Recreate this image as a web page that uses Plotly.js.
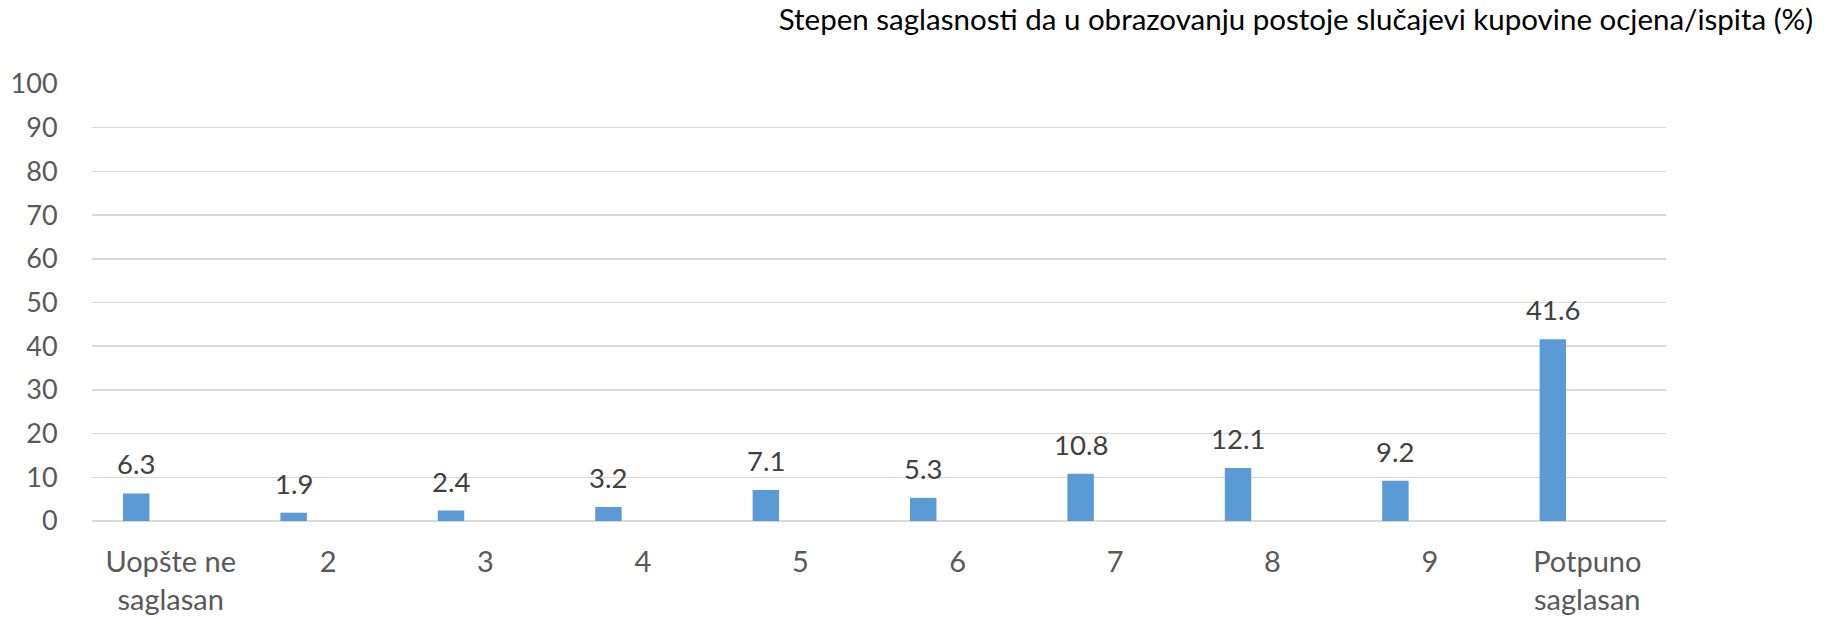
<!DOCTYPE html>
<html>
<head>
<meta charset="utf-8">
<script src="https://cdn.plot.ly/plotly-3.0.1.min.js"></script>
<style>
html, body { margin: 0; padding: 0; background: #fff; }
#chart { width: 1837px; height: 619px; }
</style>
</head>
<body>
<div id="chart"></div>
<script>
var categories = ["Uopšte ne<br>saglasan", "2", "3", "4", "5", "6", "7", "8", "9", "Potpuno<br>saglasan"];
var values = [6.3, 1.9, 2.4, 3.2, 7.1, 5.3, 10.8, 12.1, 9.2, 41.6];
var yTicks = [0, 10, 20, 30, 40, 50, 60, 70, 80, 90, 100];
var titleText = "Stepen saglasnosti da u obrazovanju postoje slučajevi kupovine ocjena/ispita (%)";

var FONT = "Lato, 'Open Sans', sans-serif";

var trace = {
  type: "bar",
  x: categories,
  y: values,
  width: 0.168,
  offset: -0.303,
  marker: { color: "#5B9BD5" },
  hoverinfo: "x+y"
};

var annotations = values.map(function (v, i) {
  return {
    x: i, y: v, xref: "x", yref: "y",
    text: v.toFixed(1),
    showarrow: false,
    xanchor: "center", yanchor: "bottom",
    xshift: -34.5, yshift: 11,
    font: { family: FONT, size: 27.5, color: "#404040" }
  };
});

var layout = {
  width: 1837, height: 619,
  margin: { l: 92, r: 171, t: 84, b: 98 },
  paper_bgcolor: "#fff",
  plot_bgcolor: "#fff",
  showlegend: false,
  title: {
    text: titleText,
    font: { family: FONT, size: 29.5, color: "#000" },
    x: 0.987, xanchor: "right", xref: "container",
    y: 0.985, yanchor: "top", yref: "container"
  },
  xaxis: {
    type: "category",
    showgrid: false,
    showline: false,
    zeroline: false,
    ticks: "outside", ticklen: 15, tickcolor: "rgba(0,0,0,0)",
    tickfont: { family: FONT, size: 29, color: "#595959" },
    fixedrange: true
  },
  yaxis: {
    range: [0, 100],
    tickvals: yTicks,
    ticktext: yTicks.map(String),
    showgrid: true,
    gridcolor: "#D9D9D9",
    gridwidth: 1.5,
    zeroline: true,
    zerolinecolor: "#D9D9D9",
    zerolinewidth: 1.5,
    showline: false,
    ticks: "outside", ticklen: 28, tickcolor: "rgba(0,0,0,0)",
    tickfont: { family: FONT, size: 27, color: "#595959" },
    fixedrange: true
  },
  annotations: annotations
};

Plotly.newPlot("chart", [trace], layout, { displayModeBar: false, staticPlot: true });
</script>
</body>
</html>
